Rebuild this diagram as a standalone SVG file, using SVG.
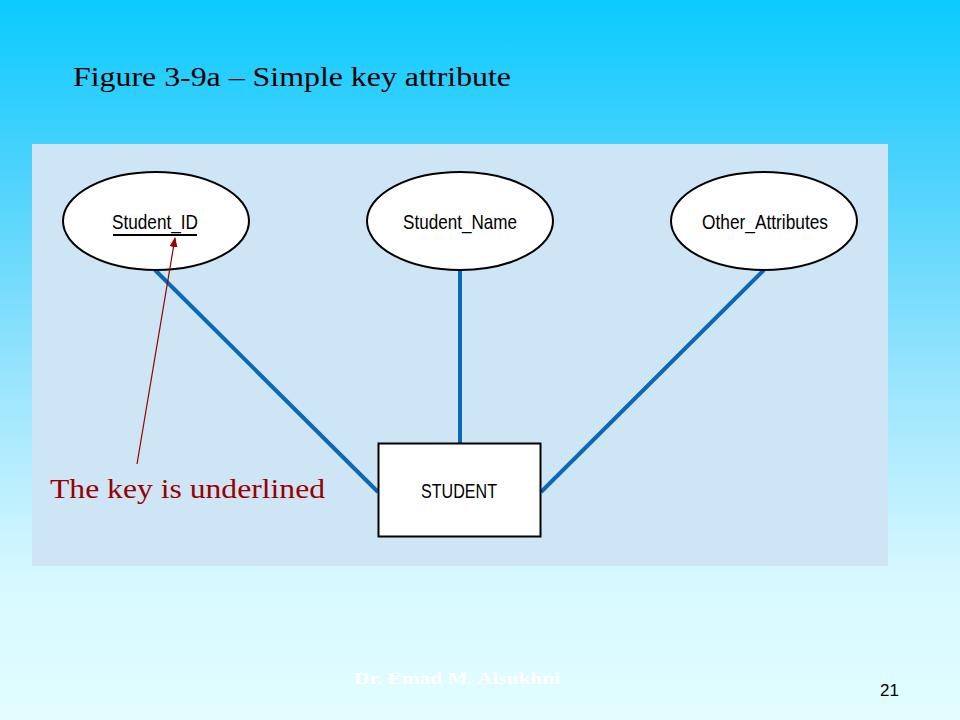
<svg xmlns="http://www.w3.org/2000/svg" width="960" height="720" viewBox="0 0 960 720">
<defs>
<linearGradient id="bg" x1="0" y1="0" x2="0" y2="1">
<stop offset="0" stop-color="#0acbff"/>
<stop offset="0.25" stop-color="#4fd3fc"/>
<stop offset="0.55" stop-color="#9fe6fd"/>
<stop offset="0.8" stop-color="#d6f8ff"/>
<stop offset="1" stop-color="#e2fdff"/>
</linearGradient>
<marker id="ah" markerWidth="10" markerHeight="10" refX="9" refY="5" orient="auto" markerUnits="userSpaceOnUse">
<path d="M0,1 L10,5 L0,9 Z" fill="#990000"/>
</marker>
<style>
.ell{fill:#ffffff;stroke:#000000;stroke-width:2}
.lbl{font-family:"Liberation Sans Narrow","Liberation Sans",Arial,sans-serif;font-size:21px;fill:#000000;text-anchor:middle}
.conn{stroke:#0a68b4;stroke-width:4;fill:none}
.serif{font-family:"Liberation Serif","Times New Roman",serif}
</style>
</defs>
<rect x="0" y="0" width="960" height="720" fill="url(#bg)"/>
<text class="serif" x="73" y="86" font-size="28" fill="#000000" textLength="438" lengthAdjust="spacingAndGlyphs">Figure 3-9a – Simple key attribute</text>
<rect x="32" y="144" width="856" height="422" fill="#cde5f4"/>
<g id="connectors">
<line class="conn" x1="155" y1="270" x2="378" y2="492"/>
<line class="conn" x1="460" y1="270" x2="460" y2="443"/>
<line class="conn" x1="764" y1="270" x2="541" y2="492"/>
</g>
<g id="node-student-id">
<ellipse class="ell" cx="156" cy="221" rx="93" ry="49"/>
<text class="lbl" x="155" y="229" textLength="86" lengthAdjust="spacingAndGlyphs">Student_ID</text>
<line x1="113" y1="235" x2="197" y2="235" stroke="#000" stroke-width="2"/>
</g>
<g id="node-student-name">
<ellipse class="ell" cx="460" cy="221" rx="93" ry="49"/>
<text class="lbl" x="460" y="229" textLength="114" lengthAdjust="spacingAndGlyphs">Student_Name</text>
</g>
<g id="node-other-attributes">
<ellipse class="ell" cx="764" cy="221" rx="93" ry="49"/>
<text class="lbl" x="765" y="229" textLength="126" lengthAdjust="spacingAndGlyphs">Other_Attributes</text>
</g>
<g id="node-student">
<rect x="378.5" y="443.5" width="162" height="93" fill="#ffffff" stroke="#000" stroke-width="2"/>
<text class="lbl" x="459" y="498" textLength="76" lengthAdjust="spacingAndGlyphs">STUDENT</text>
</g>
<g id="annotation">
<line x1="137" y1="464" x2="175" y2="238" stroke="#990000" stroke-width="1.2" marker-end="url(#ah)"/>
<text class="serif" x="50" y="498" font-size="28" fill="#990000" textLength="275" lengthAdjust="spacingAndGlyphs">The key is underlined</text>
</g>
<text class="serif" x="354" y="684" font-size="17" font-weight="bold" fill="#ffffff" textLength="206" lengthAdjust="spacingAndGlyphs">Dr. Emad M. Alsukhni</text>
<text x="880" y="696" font-family="Liberation Sans, Arial, sans-serif" font-size="17" fill="#000000">21</text>
</svg>
